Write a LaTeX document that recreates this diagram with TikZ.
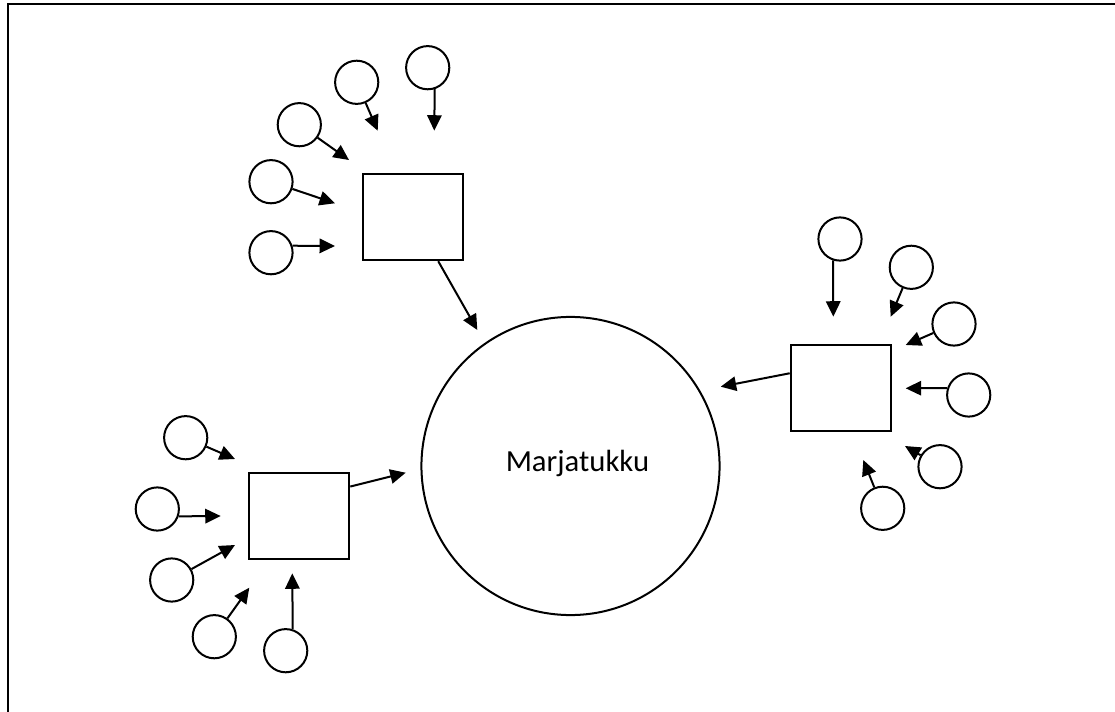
\documentclass[tikz,border=0pt]{standalone}
\usepackage{fontspec}
\setmainfont{Carlito}
\usetikzlibrary{arrows.meta}

\begin{document}
\begin{tikzpicture}[x=0.375pt, y=-0.375pt,
    >={Triangle[length=5.8pt,width=5.4pt]},
    line width=0.75pt,
    bb/.style={%
      rectangle, draw=black, fill=white,
      minimum width=37.5pt, minimum height=32.2pt, inner sep=0pt
    },
    cc/.style={%
      circle, draw=black, fill=white, minimum size=16.2pt, inner sep=0pt
    },
    big/.style={%
      circle, draw=black, fill=white, minimum size=111.8pt, inner sep=0pt
    }
]
    \useasboundingbox (0,0) rectangle (1115,712);
    \draw[line width=0.9pt] (7.8,712) -- (7.8,4) -- (1115,4);

    \node[big] (0) at (570.5,466)
      [label={[xshift=2.6pt,yshift=1pt,font=\fontsize{11.5}{13}\selectfont]center:Marjatukku}] {};
    \node[bb] (1) at (413.3,217.3) {};
    \node[bb] (2) at (299.3,516)   {};
    \node[bb] (3) at (840.7,387.9) {};

    % top group
    \node[cc] (11) at (427.7,67.7)  {};
    \node[cc] (12) at (356.7,82.3)  {};
    \node[cc] (13) at (299.3,124.7) {};
    \node[cc] (14) at (271,181.7)   {};
    \node[cc] (15) at (271,252.7)   {};
    \coordinate (t11) at (434.3,130.7);
    \coordinate (t12) at (377.7,130.7);
    \coordinate (t13) at (349,160);
    \coordinate (t14) at (335,203.3);
    \coordinate (t15) at (335,246);

    % left group
    \node[cc] (21) at (185.7,437.7) {};
    \node[cc] (22) at (157.3,509)   {};
    \node[cc] (23) at (171.7,580)   {};
    \node[cc] (24) at (214.3,636.7) {};
    \node[cc] (25) at (285.7,650.7) {};
    \coordinate (t21) at (235,459);
    \coordinate (t22) at (220.7,516);
    \coordinate (t23) at (235,545);
    \coordinate (t24) at (249.3,587.7);
    \coordinate (t25) at (292.3,573.3);

    % right group
    \node[cc] (31) at (840,239)     {};
    \node[cc] (32) at (911.3,267.3) {};
    \node[cc] (33) at (954,324)     {};
    \node[cc] (34) at (968.7,395)   {};
    \node[cc] (35) at (940,466.7)   {};
    \node[cc] (36) at (882.7,508.3) {};
    \coordinate (t31) at (833.3,316.7);
    \coordinate (t32) at (890.7,316.7);
    \coordinate (t33) at (905.7,345);
    \coordinate (t34) at (905.7,388.3);
    \coordinate (t35) at (905,446);
    \coordinate (t36) at (863.3,460);

    \coordinate (t1) at (477.3,330);
    \coordinate (t2) at (405.7,472.7);
    \coordinate (t3) at (720.7,386.7);

    \path[->] (11.-72) edge (t11)
          (12) edge (t12)
          (13) edge (t13)
          (14) edge (t14)
          (15.18) edge (t15)
          (21) edge (t21)
          (22.-19) edge (t22)
          (23) edge (t23)
          (24) edge (t24)
          (25.72) edge (t25)
          (31.-108) edge (t31)
          (32) edge (t32)
          (33) edge (t33)
          (34.162) edge (t34)
          (35) edge (t35)
          (36) edge (t36)
          (1) edge (t1)
          (2.30) edge (t2)
          (3.164) edge (t3)
    ;

\end{tikzpicture}
\end{document}
